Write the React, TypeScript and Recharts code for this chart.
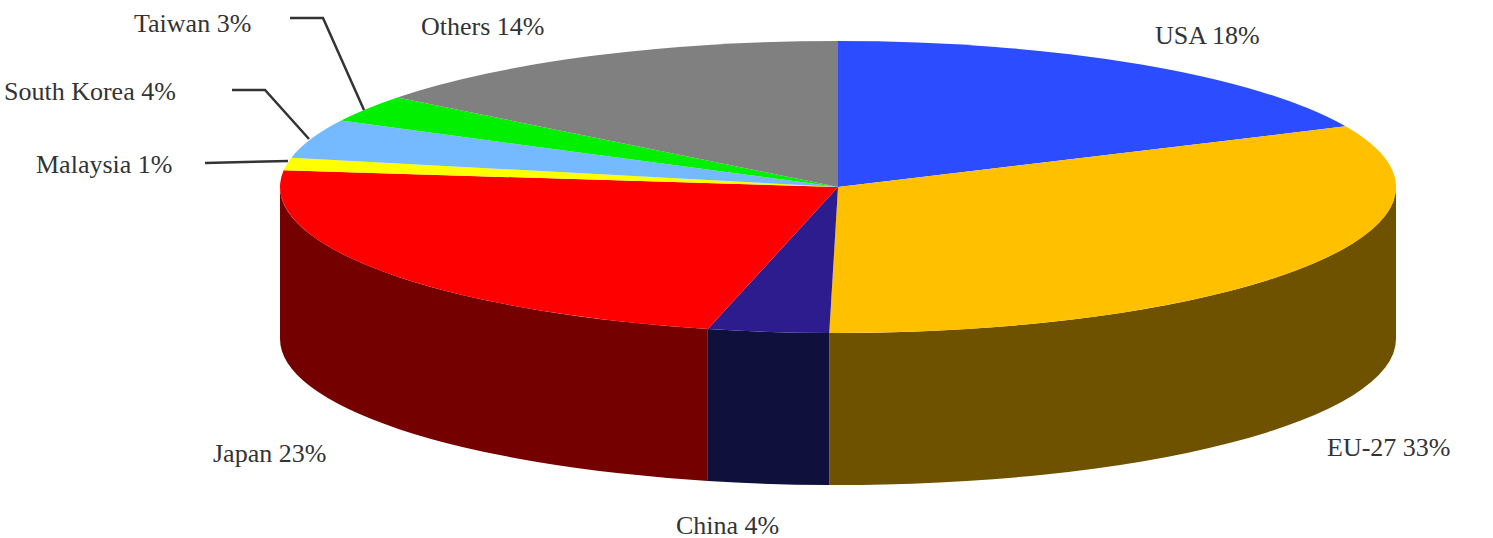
import { Cell, Pie, PieChart } from "recharts";

const NAMES = ["USA", "EU-27", "China", "Japan", "Malaysia", "South Korea", "Taiwan", "Others"];
// percentages printed in the labels
const PRINTED = [18, 33, 4, 23, 1, 4, 3, 14];
const SHARES = [18.2, 32.1, 3.5, 23.1, 1.4, 4.3, 3.0, 14.5];
const TOP_COLORS = ["#2b4dff", "#ffc000", "#2c1c8e", "#ff0000", "#ffff00", "#75b9ff", "#00f000", "#808080"];
const WALL_COLORS = ["#15267f", "#6e5200", "#10103c", "#750000", "#7f7f00", "#3a5c7f", "#007800", "#404040"];

const CX = 838;
const CY = 187;
const RX = 558;
const RY = 146;
const DEPTH = 152;

const LABEL_AT = [
  [1155, 44],
  [1327, 456],
  [676, 534],
  [213, 462],
  [36, 173],
  [4, 100],
  [134, 32],
  [421, 35],
];
const LEADERS: Record<string, string> = {
  Malaysia: "205,163 245,162 288,161",
  "South Korea": "232,90 265,90 309,139",
  Taiwan: "290,18 323,18 364,110",
};

const rows = NAMES.map((name, i) => ({ name, value: SHARES[i], wall: WALL_COLORS[i] }));

const rad = (deg: number) => (deg * Math.PI) / 180;
const px = (deg: number) => CX + RX * Math.cos(rad(deg));
const py = (deg: number, drop = 0) => CY - RY * Math.sin(rad(deg)) + drop;

// flatten recharts' circular sector to an ellipse and add the front wall
function TiltedSlice(props: any) {
  const { startAngle, endAngle, fill, payload } = props;
  const large = startAngle - endAngle > 180 ? 1 : 0;
  const top = `M${CX},${CY} L${px(startAngle)},${py(startAngle)} A${RX},${RY} 0 ${large} 1 ${px(endAngle)},${py(endAngle)} Z`;

  // the wall only shows where the rim is on the near side (angles -180..0)
  const norm = (a: number) => (a > 0 ? a - 360 : a);
  let from = norm(startAngle);
  let to = norm(endAngle);
  if (startAngle > 0 && endAngle <= 0) from = 0;
  if (from > 0) from = 0;
  const a = Math.min(from, 0);
  const b = Math.max(to, -180);
  const hasWall = startAngle > -180 && endAngle < 0 && a > b;

  return (
    <g>
      {hasWall && (
        <path
          d={`M${px(a)},${py(a)} A${RX},${RY} 0 0 1 ${px(b)},${py(b)} L${px(b)},${py(b, DEPTH)} A${RX},${RY} 0 0 0 ${px(a)},${py(a, DEPTH)} Z`}
          fill={payload.wall ?? props.wall}
        />
      )}
      <path d={top} fill={fill} />
    </g>
  );
}

function SliceLabel({ index }: any) {
  const name = NAMES[index];
  const [x, y] = LABEL_AT[index];
  return (
    <g>
      {LEADERS[name] && <polyline points={LEADERS[name]} fill="none" stroke="#333" strokeWidth={2.5} />}
      <text x={x} y={y} fontFamily="'Liberation Serif', serif" fontSize={26} fill="#333">
        {name} {PRINTED[index]}%
      </text>
    </g>
  );
}

export default function App() {
  return (
    <div style={{ position: "fixed", left: 0, top: 0, width: 1493, height: 538, background: "#fff" }}>
      <PieChart width={1493} height={538} margin={{ top: 0, right: 0, bottom: 0, left: 0 }}>
        <Pie
          data={rows}
          dataKey="value"
          nameKey="name"
          cx={CX}
          cy={CY}
          outerRadius={RX}
          startAngle={90}
          endAngle={-270}
          stroke="none"
          shape={TiltedSlice}
          label={SliceLabel}
          labelLine={false}
          isAnimationActive={false}
        >
          {rows.map((row, i) => (
            <Cell key={row.name} fill={TOP_COLORS[i]} />
          ))}
        </Pie>
      </PieChart>
    </div>
  );
}
